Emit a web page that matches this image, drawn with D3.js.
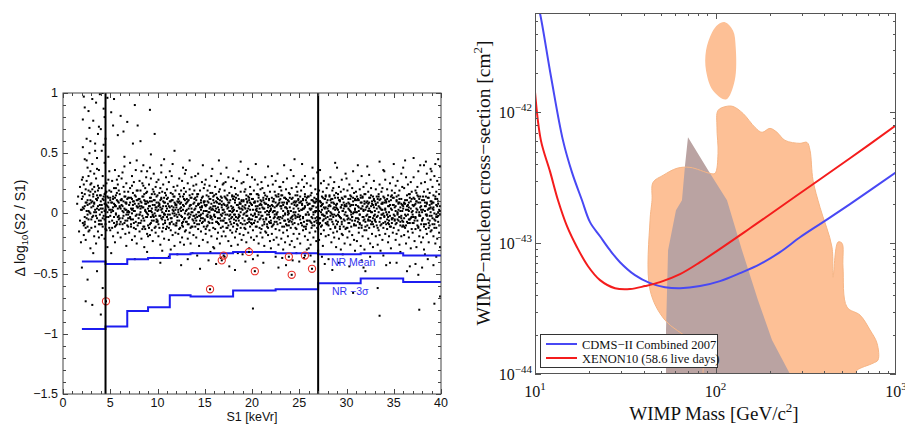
<!DOCTYPE html>
<html>
<head>
<meta charset="utf-8">
<script src="https://cdn.jsdelivr.net/npm/d3@7"></script>
<style>
  body { margin: 0; background: #fff; }
  svg { display: block; }
</style>
</head>
<body>
<div id="canvas"></div>
<script>
/* LEFT PANEL DATA */
// one row per 1 keVr bin; each entry "tenths:hundredths" -> (bin + t/10, v/100)
const scatterStart = 1;
const eventRows = [
  "5:8 7:-15 8:22 9:3 9:-24 6:14 8:-6",
  "0:12 1:-8 1:30 2:4 2:-18 3:16 3:45 3:-3 4:9 4:-22 5:27 5:2 5:62 6:-11 6:7 6:38 7:19 7:-5 7:85 8:1 8:-14 8:50 9:11 9:24 9:-29 0:-45 4:-73 6:-55 2:97 8:71 1:55 9:35 3:-9 0:28 1:78 5:44 7:31 9:60 3:88",
  "0:5 0:-12 1:20 1:41 2:-2 2:14 2:77 3:-19 3:8 3:33 4:-7 4:58 4:18 5:1 5:-25 5:92 6:11 6:46 6:-4 7:23 7:-15 7:66 8:3 8:36 8:-9 9:15 9:-1 9:99 1:-76 6:-48 3:9 5:29 8:-20 0:25 2:-33 7:6 4:52 8:72 1:95 6:37",
  "0:10 0:-6 1:52 1:21 1:-18 2:4 2:31 2:-11 3:87 3:14 3:-2 4:8 4:-21 4:42 5:17 5:-9 5:3 6:25 6:-14 7:6 7:96 7:-28 8:13 8:-3 9:35 9:19 9:-12 0:-84 2:-62 6:7 3:57 8:28 4:-5 1:1 5:62 0:70 4:80 8:47 2:100",
  "0:3 0:-14 1:18 1:84 2:-6 2:9 2:27 3:-19 3:2 3:12 4:-3 4:21 4:95 5:7 5:-24 5:36 6:-10 6:15 6:0 7:28 7:-7 7:11 8:-16 8:4 8:65 9:19 9:-2 9:31 3:73 1:-33 5:-11 6:6 8:24 0:13",
  "0:-9 0:16 1:4 1:-20 1:81 2:11 2:29 3:-4 3:6 3:-13 4:22 4:1 4:68 5:-8 5:14 5:39 6:-17 6:3 6:9 7:25 7:-1 7:-27 8:12 8:-6 8:76 9:18 9:-11 9:2 2:-42 5:47 3:34 7:8 0:5 9:-4",
  "0:7 0:-16 1:21 1:-3 2:13 2:-9 2:4 3:31 3:-22 3:0 4:10 4:-5 4:17 5:-12 5:26 5:2 6:8 6:-19 6:90 7:14 7:-7 7:36 8:-1 8:19 8:-25 9:5 9:-10 9:11 1:42 4:58 8:44 6:-38 3:23 0:1 9:73",
  "0:-4 0:12 1:6 1:-15 1:27 2:1 2:-8 2:19 3:-21 3:9 3:35 4:-2 4:14 5:-11 5:5 5:23 6:-6 6:16 6:-28 7:3 7:10 7:-13 8:30 8:-3 8:8 9:18 9:-17 9:0 2:60 5:40 9:-32 4:25 1:-1 7:21 9:35",
  "0:9 0:-10 1:2 1:24 2:-18 2:6 2:13 3:-3 3:29 3:-8 4:16 4:-14 4:4 5:-1 5:20 5:-23 6:11 6:-6 6:33 7:0 7:-12 7:7 8:22 8:-16 8:3 9:-5 9:14 9:26 3:49 6:-37 0:-19 4:10 8:-2 2:38 9:5 2:86 7:66",
  "0:-7 0:15 1:3 1:-19 1:28 2:8 2:-2 2:-12 3:21 3:5 3:-26 4:-4 4:12 4:34 5:1 5:-15 5:18 6:-9 6:6 6:24 7:-1 7:13 7:-21 8:9 8:-6 8:17 9:2 9:-13 9:30 3:-41 7:45 5:-31 1:9 6:-3 4:40",
  "0:4 0:-11 0:20 1:-5 1:13 2:-22 2:2 2:26 3:-8 3:10 3:-1 4:17 4:-14 5:6 5:-4 5:31 6:-18 6:11 6:0 7:22 7:-9 7:5 8:-27 8:14 8:-2 9:8 9:19 9:-16 2:-36 6:41 8:52 4:-30 0:-3 9:3 3:35",
  "0:-10 0:7 1:23 1:-3 2:12 2:-17 2:1 3:-6 3:16 3:29 4:-24 4:4 4:-12 5:9 5:19 5:-2 6:-8 6:27 6:-20 7:3 7:14 7:-11 8:-5 8:21 8:6 9:-15 9:0 9:33 1:-34 5:-43 7:38 3:10 0:-1 8:-26",
  "0:2 0:18 0:-14 1:-7 1:9 2:25 2:-1 2:-21 3:11 3:-9 3:4 4:-16 4:20 4:-3 5:13 5:7 5:-25 6:1 6:-11 6:30 7:16 7:-5 8:-18 8:8 8:23 9:-2 9:12 9:-8 4:44 7:-33 2:-38 0:36 5:-1 9:19",
  "0:-4 0:13 1:6 1:-20 1:24 2:-9 2:16 3:1 3:-13 3:33 4:8 4:-2 4:-27 5:19 5:-6 6:11 6:-15 6:3 7:26 7:-8 7:5 8:-22 8:14 8:0 9:9 9:-11 9:21 2:-35 5:-46 8:40 3:7 6:-4 1:-1 0:31",
  "0:10 0:-6 1:-17 1:2 1:28 2:7 2:-11 3:19 3:-3 3:-24 4:14 4:1 5:-8 5:23 5:-14 6:5 6:12 6:-2 7:-19 7:31 7:8 8:-5 8:17 9:-12 9:3 9:-28 4:-39 6:-32 8:37 0:24 2:15 5:4 9:11 3:-1",
  "0:-2 0:15 1:-13 1:6 1:22 2:-7 2:10 3:-21 3:1 3:27 4:-4 4:12 4:-16 5:18 5:-9 5:3 6:-25 6:8 6:20 7:-1 7:-12 7:33 8:5 8:13 8:-19 9:-6 9:24 9:0 2:-42 7:-37 5:44 0:-29 3:9 8:-2",
  "0:8 0:-15 1:19 1:-4 1:1 2:13 2:-19 2:26 3:-8 3:6 4:-12 4:15 4:-1 5:-23 5:9 5:30 6:-5 6:2 6:17 7:-14 7:11 8:-9 8:22 8:-27 9:4 9:14 9:-3 1:-36 6:-44 3:38 7:-1 0:25 9:-16 4:7",
  "0:-11 0:5 1:14 1:-1 2:-20 2:9 2:21 3:-6 3:16 3:-15 4:2 4:27 5:-10 5:7 5:-26 6:12 6:-3 6:35 7:-17 7:4 8:18 8:-8 8:1 9:-22 9:11 9:25 2:-47 5:-33 8:43 1:-5 4:-13 7:8 0:29 6:-1",
  "0:3 0:-9 1:-18 1:11 1:26 2:0 2:-6 3:20 3:-13 3:7 4:-24 4:15 4:-2 5:10 5:-8 5:32 6:-16 6:4 7:13 7:-4 7:-29 8:9 8:22 8:-11 9:-1 9:16 9:-20 3:-40 6:37 0:-34 5:2 8:-5 2:18 7:6",
  "0:-5 0:12 1:-14 1:3 2:19 2:-8 2:-22 3:9 3:0 3:28 4:-11 4:6 5:16 5:-3 5:-19 6:24 6:-7 6:10 7:-25 7:1 7:15 8:-12 8:7 9:20 9:-4 9:-16 1:-38 1:-79 4:41 6:-35 0:30 3:-1 9:8 5:4",
  "0:7 0:-13 1:21 1:-2 1:-20 2:11 2:4 3:-9 3:17 3:-27 4:1 4:-15 4:30 5:8 5:-5 6:14 6:-11 6:-1 7:23 7:-18 7:5 8:-7 8:12 9:-23 9:2 9:18 2:-41 7:39 4:-32 0:26 5:-16 8:-1 3:9 9:-8",
  "0:-8 0:4 1:13 1:-17 2:1 2:24 2:-10 3:-4 3:10 3:-22 4:18 4:-7 4:5 5:-13 5:27 6:0 6:-20 6:14 7:7 7:-9 7:33 8:-26 8:16 8:-3 9:9 9:-14 9:22 5:-36 8:-45 1:31 0:-29 4:-1 6:6 3:2",
  "0:12 0:-3 1:-21 1:6 1:19 2:-11 2:15 3:2 3:-16 3:26 4:-6 4:9 5:-24 5:13 5:-1 6:20 6:-9 7:4 7:-14 7:29 8:-5 8:11 8:-19 9:17 9:0 9:-10 2:-37 6:-43 4:40 0:22 5:5 8:1 3:-30 7:8",
  "0:-6 0:16 1:2 1:-12 2:-23 2:8 2:21 3:-2 3:13 4:-17 4:4 4:31 5:-8 5:10 5:-28 6:15 6:-4 6:1 7:-13 7:22 8:7 8:-21 8:18 9:-1 9:-9 9:12 3:-39 7:-33 1:36 5:45 0:-26 2:-3 6:9 9:25",
  "0:9 0:-17 1:14 1:-5 1:-25 2:3 2:19 3:-10 3:7 3:28 4:-14 4:12 4:-3 5:22 5:-7 6:-19 6:5 6:16 7:-1 7:-11 8:25 8:-6 8:9 9:-22 9:14 9:1 5:-37 8:-30 3:41 0:-40 2:-8 6:31 4:4 7:11",
  "0:-1 0:14 1:-16 1:8 2:-7 2:23 2:-26 3:4 3:17 3:-12 4:-4 4:11 5:-20 5:6 5:29 6:-10 6:13 7:1 7:-15 7:20 8:-6 8:10 8:-23 9:16 9:-3 9:34 2:-35 6:-40 0:-29 4:38 8:2 5:-1 3:-8 7:9",
  "0:6 0:-13 1:19 1:-4 1:-22 2:10 2:-8 3:1 3:25 3:-17 4:-10 4:14 4:3 5:-27 5:8 5:18 6:-5 6:-14 6:27 7:12 7:-2 8:-19 8:5 8:15 9:-9 9:21 9:0 4:-36 7:-42 2:36 0:-31 5:-1 8:-4 3:9",
  "0:-9 0:11 1:2 1:-18 1:24 2:-5 2:15 3:-13 3:6 3:30 4:-24 4:0 4:12 5:-7 5:19 6:-16 6:4 6:9 7:-1 7:-20 7:26 8:13 8:-11 9:-28 9:7 9:17 1:-38 5:-47 8:42 3:-2 6:21 0:-3 7:5 9:-6",
  "0:4 0:-15 1:-7 1:16 2:-21 2:1 2:22 3:-3 3:11 3:-11 4:18 4:-30 4:5 5:-9 5:13 5:28 6:-18 6:2 7:-5 7:9 7:20 8:-25 8:-1 8:14 9:6 9:-13 9:33 2:-41 6:-34 0:38 4:-4 8:7 1:-1 5:-17",
  "0:-12 0:8 1:19 1:-2 1:-20 2:12 2:-8 3:3 3:24 3:-15 4:-5 4:15 4:-26 5:7 5:-11 6:21 6:-3 6:-18 7:10 7:0 7:35 8:-9 8:17 8:-22 9:4 9:12 9:-6 7:-66 3:-44 0:29 5:1 9:-31 2:-4 4:6",
  "0:1 0:-10 1:14 1:-23 2:6 2:-4 2:27 3:-16 3:11 3:2 4:-8 4:20 5:-27 5:4 5:15 6:-12 6:9 6:31 7:-3 7:-19 7:13 8:22 8:-6 8:3 9:-14 9:8 9:-30 6:-39 2:40 8:-45 0:18 4:-1 3:-5 9:16",
  "0:-7 0:16 1:-14 1:5 1:25 2:-1 2:10 3:-21 3:-6 3:18 4:9 4:-12 4:32 5:-3 5:13 5:-25 6:6 6:-9 6:21 7:-17 7:1 8:14 8:-4 8:-28 9:11 9:-11 9:27 0:-48 5:-36 2:39 7:8 3:2 9:-2 4:4",
  "0:10 0:-5 1:-19 1:7 1:20 2:-10 2:14 3:-2 3:-26 3:9 4:16 4:-14 4:1 5:24 5:-7 5:-18 6:4 6:12 6:-31 7:-9 7:18 8:-1 8:-22 8:8 9:14 9:-12 9:36 3:-62 9:-35 5:-85 5:43 0:-1 6:-4 8:21 7:3",
  "0:-3 0:13 1:-17 1:4 1:28 2:-9 2:9 3:20 3:-13 3:-1 4:-24 4:6 4:15 5:-6 5:10 5:-19 6:25 6:-2 7:-11 7:14 7:-29 8:3 8:19 8:-8 9:-16 9:7 9:30 6:-41 2:-43 0:35 5:1 8:-4 3:-5 1:11",
  "0:7 0:-12 1:17 1:-5 2:-22 2:2 2:23 3:11 3:-8 3:-17 4:0 4:27 5:-14 5:8 5:15 6:-3 6:-26 6:19 7:5 7:-10 8:-19 8:12 8:33 9:-6 9:2 9:22 3:-41 7:-32 0:41 4:-1 6:9 1:-2 8:-4 5:-6",
  "0:-10 0:6 1:21 1:-4 1:-18 2:11 2:-12 3:3 3:30 3:-25 4:-7 4:15 5:-1 5:-15 5:24 6:9 6:-20 6:2 7:16 7:-8 8:-29 8:4 8:26 9:-13 9:12 9:-3 7:-44 4:-48 0:38 2:44 6:-5 9:18 5:7 1:8",
  "0:2 0:-16 1:13 1:-8 1:30 2:-23 2:7 3:-3 3:19 3:-13 4:10 4:-28 4:4 5:22 5:-6 6:-11 6:14 6:35 7:-19 7:1 8:9 8:-2 8:-14 9:25 9:-24 9:6 3:-42 6:-51 1:46 8:40 0:-1 5:3 7:12 4:17 7:-80",
  "0:-6 0:11 1:-20 1:3 2:18 2:-9 2:-30 3:6 3:26 4:-13 4:-1 4:14 5:9 5:-17 5:33 6:-5 6:20 7:-24 7:4 7:13 8:-10 8:17 8:-2 9:28 9:-15 9:1 4:43 6:-38 0:-45 2:40 5:-1 8:7 3:-34 9:37",
  "0:8 0:-14 1:-4 1:22 2:-19 2:5 2:15 3:-9 3:31 3:0 4:-25 4:12 5:-3 5:18 5:-12 6:27 6:6 6:-21 7:-7 7:10 7:45 8:-16 8:3 8:24 9:-1 9:39 9:-28 9:-69 2:-43 5:-36 0:35 4:41 7:-2 1:9 3:-75"
];

// dense core of the band, rows start at S1 = 2
const coreStart = 2;
const coreRows = [
  "0:3 1:14 2:-10 3:6 4:20 5:-4 6:11 7:-15 8:8 9:0 0:17 2:24 4:-12 6:-1 8:15 1:5 3:-7 5:9 7:2 9:18",
  "0:9 1:-3 2:16 3:1 4:-11 5:12 6:4 7:19 8:-6 9:7 1:10 3:22 5:-2 7:13 9:-9 0:-5 2:6 4:3 6:15 8:21",
  "0:15 1:7 2:-4 3:11 4:2 5:-13 6:18 7:1 8:9 9:-7 0:4 2:12 4:16 6:-3 8:5 1:-9 3:23 5:8 7:14 9:3",
  "0:-2 1:9 2:3 3:14 4:-8 5:6 6:-1 7:17 8:10 9:-5 0:11 2:-12 4:8 6:21 8:-3 1:1 3:5 5:13 7:-9 9:9",
  "0:6 1:-7 2:12 3:2 4:-2 5:18 6:-6 7:9 8:1 9:13 0:-4 2:7 4:10 6:14 8:-10 1:11 3:-9 5:4 7:3 9:-1",
  "0:1 1:9 2:-5 3:12 4:4 5:-8 6:15 7:-2 8:6 9:19 0:13 2:-11 4:7 6:2 8:11 1:-4 3:3 5:10 7:-13 9:5",
  "0:8 1:-1 2:10 3:-6 4:5 5:14 6:-11 7:2 8:17 9:-3 0:-8 2:4 4:-13 6:11 8:1 1:12 3:6 5:-4 7:8 9:10",
  "0:-1 1:6 2:-9 3:13 4:1 5:7 6:-3 7:16 8:-11 9:9 0:4 2:10 4:-6 6:18 8:5 1:-12 3:2 5:-2 7:11 9:-7",
  "0:2 1:-9 2:7 3:-2 4:13 5:4 6:-12 7:9 8:-1 9:15 0:-6 2:17 4:3 6:10 8:-8 1:6 3:11 5:-5 7:0 9:6",
  "0:-3 1:8 2:-12 3:5 4:10 5:-7 6:3 7:14 8:0 9:-10 0:12 2:6 4:-4 6:16 8:9 1:-1 3:-9 5:11 7:2 9:7",
  "0:5 1:-6 2:9 3:-1 4:14 5:2 6:-10 7:7 8:12 9:-4 0:-8 2:3 4:8 6:-3 8:16 1:10 3:-13 5:5 7:-7 9:11",
  "0:-7 1:3 2:10 3:-4 4:6 5:-12 6:13 7:1 8:-2 9:9 0:8 2:-9 4:15 6:4 8:-6 1:12 3:0 5:7 7:-11 9:3",
  "0:4 1:11 2:-3 3:8 4:-9 5:5 6:-1 7:13 8:-7 9:2 0:-11 2:14 4:1 6:9 8:-4 1:-6 3:16 5:-2 7:6 9:10",
  "0:-5 1:6 2:2 3:-10 4:9 5:12 6:-4 7:3 8:-8 9:14 0:7 2:-2 4:-7 6:17 8:4 1:-13 3:10 5:1 7:-3 9:6",
  "0:9 1:-3 2:4 3:13 4:-8 5:1 6:11 7:-6 8:7 9:-11 0:-1 2:16 4:5 6:-4 8:10 1:2 3:-7 5:8 7:14 9:3",
  "0:-6 1:7 2:-1 3:12 4:4 5:-10 6:9 7:2 8:-4 9:15 0:3 2:-8 4:11 6:-2 8:6 1:14 3:-12 5:5 7:-7 9:1",
  "0:2 1:-8 2:11 3:-3 4:7 5:15 6:-6 7:9 8:-12 9:4 0:12 2:-1 4:-9 6:5 8:8 1:3 3:13 5:-4 7:-2 9:10",
  "0:-4 1:10 2:5 3:-9 4:1 5:-2 6:14 7:-7 8:3 9:8 0:6 2:-12 4:12 6:-5 8:16 1:-1 3:4 5:9 7:11 9:-8",
  "0:7 1:-2 2:-8 3:10 4:3 5:-11 6:6 7:13 8:-5 9:1 0:-9 2:9 4:-3 6:16 8:4 1:12 3:-6 5:2 7:-1 9:11",
  "0:-2 1:5 2:13 3:-7 4:8 5:-4 6:2 7:-12 8:11 9:6 0:10 2:-5 4:15 6:-9 8:1 1:-10 3:4 5:12 7:7 9:-3",
  "0:3 1:-11 2:6 3:12 4:-3 5:9 6:-7 7:1 8:14 9:-5 0:-6 2:10 4:2 6:-1 8:8 1:7 3:-9 5:15 7:-4 9:11",
  "0:-8 1:4 2:9 3:-2 4:13 5:-6 6:5 7:-10 8:2 9:10 0:6 2:-4 4:-11 6:12 8:-1 1:15 3:7 5:0 7:9 9:-7",
  "0:5 1:-4 2:12 3:-9 4:1 5:7 6:-12 7:10 8:-3 9:4 0:13 2:-7 4:9 6:-2 8:15 1:2 3:-5 5:-1 7:6 9:11",
  "0:-3 1:9 2:-8 3:3 4:11 5:-11 6:6 7:-1 8:13 9:-6 0:2 2:10 4:-4 6:14 8:-9 1:-2 3:8 5:4 7:-13 9:7",
  "0:8 1:-6 2:3 3:11 4:-10 5:1 6:9 7:-4 8:5 9:-12 0:-1 2:15 4:6 6:-7 8:12 1:4 3:-3 5:10 7:2 9:-8",
  "0:-5 1:2 2:10 3:-11 4:7 5:13 6:-2 7:4 8:-8 9:9 0:11 2:-4 4:-1 6:5 8:14 1:-9 3:6 5:-6 7:12 9:1",
  "0:4 1:-10 2:7 3:1 4:-5 5:12 6:-9 7:8 8:3 9:-2 0:-7 2:14 4:9 6:-3 8:-12 1:6 3:11 5:-1 7:15 9:5",
  "0:-9 1:3 2:-2 3:10 4:5 5:-7 6:12 7:-11 8:6 9:1 0:8 2:11 4:-4 6:2 8:-6 1:13 3:-13 5:7 7:4 9:14",
  "0:6 1:-5 2:9 3:-8 4:2 5:14 6:-3 7:7 8:-10 9:11 0:-2 2:4 4:12 6:-6 8:1 1:-12 3:8 5:-1 7:13 9:3",
  "0:-4 1:11 2:-7 3:5 4:-1 5:9 6:-10 7:14 8:2 9:-5 0:7 2:12 4:-9 6:4 8:-3 1:1 3:-12 5:13 7:6 9:10",
  "0:3 1:-2 2:-10 3:8 4:13 5:-6 6:1 7:10 8:-9 9:5 0:-11 2:6 4:-3 6:15 8:7 1:9 3:-5 5:2 7:-7 9:12",
  "0:-6 1:8 2:4 3:-12 4:6 5:11 6:-4 7:-1 8:9 9:-8 0:2 2:-3 4:14 6:-10 8:3 1:-7 3:12 5:5 7:8 9:0",
  "0:9 1:-7 2:1 3:12 4:-3 5:6 6:-11 7:4 8:-5 9:13 0:-2 2:10 4:-8 6:7 8:15 1:3 3:-1 5:-9 7:11 9:-4",
  "0:-1 1:5 2:-9 3:10 4:-5 5:3 6:12 7:-7 8:8 9:-11 0:13 2:6 4:1 6:-3 8:-2 1:-6 3:14 5:9 7:2 9:7",
  "0:4 1:-11 2:8 3:-2 4:11 5:-8 6:5 7:13 8:-4 9:1 0:-7 2:-1 4:6 6:16 8:10 1:9 3:-10 5:3 7:-5 9:-3",
  "0:-8 1:6 2:12 3:-4 4:1 5:-10 6:9 7:-2 8:14 9:3 0:7 2:-6 4:10 6:-12 8:5 1:-3 3:8 5:15 7:-1 9:-9",
  "0:1 1:-4 2:-11 3:9 4:6 5:-2 6:13 7:-8 8:4 9:10 0:-5 2:11 4:-9 6:3 8:-6 1:14 3:2 5:8 7:-12 9:5",
  "0:10 1:-9 2:3 3:-5 4:14 5:7 6:-3 7:1 8:-10 9:6 0:-2 2:9 4:-6 6:12 8:16 1:4 3:-12 5:-1 7:8 9:2"
];

// candidate events (red circles)
const candS1 = [4.55, 15.56, 16.8, 17.0, 19.68, 20.3, 23.9, 24.2, 25.6, 26.35];
const candLog = [-0.73, -0.63, -0.39, -0.35, -0.32, -0.48, -0.36, -0.51, -0.35, -0.46];

// NR bands, one value per energy bin
const binEdges = [2, 4.5, 6.8, 9, 11.3, 13.5, 18, 22.5, 27, 31.5, 36, 40];
const nrMean = [-0.40, -0.42, -0.38, -0.37, -0.34, -0.33, -0.32, -0.33, -0.34, -0.33, -0.35];
const nr3Sigma = [-0.96, -0.94, -0.81, -0.78, -0.68, -0.69, -0.64, -0.63, -0.58, -0.54, -0.57];
const cutLines = [4.5, 27];

const s1Ticks = [0, 5, 10, 15, 20, 25, 30, 35, 40];
const dlogTicks = [1, 0.5, 0, -0.5, -1, -1.5];

/* RIGHT PANEL DATA */
const cdmsMass = [10.26, 10.66, 12.26, 14.29, 16.03, 18.21, 20.17, 22.92, 26.03, 29.57, 35.8, 43.4, 52.5, 63.6, 82.1, 105.9, 136.7, 176.4, 227.7, 293.9, 394.1, 556.1, 1000];
const cdmsSigma = [6.9e-42, 5.7e-42, 1.88e-42, 6.11e-43, 3.48e-43, 2.13e-43, 1.45e-43, 1.13e-43, 8.84e-44, 7.16e-44, 5.70e-44, 4.95e-44, 4.61e-44, 4.53e-44, 4.70e-44, 5.13e-44, 5.90e-44, 6.92e-44, 8.54e-44, 1.11e-43, 1.45e-43, 1.99e-43, 3.48e-43];

const xenonMass = [10, 10.78, 12.11, 13.41, 15.04, 17.09, 19.67, 22.92, 27.75, 33.6, 40.7, 49.3, 63.6, 82.1, 155.3, 293.9, 556.1, 1000];
const xenonSigma = [1.43e-42, 6.11e-43, 3.54e-43, 2.13e-43, 1.35e-43, 9.32e-44, 6.67e-44, 5.22e-44, 4.53e-44, 4.46e-44, 4.70e-44, 5.04e-44, 5.80e-44, 7.16e-44, 1.30e-43, 2.41e-43, 4.46e-43, 7.96e-43];

const islandMass = [112.9, 125.0, 129.4, 127.8, 114.4, 96.8, 88.6, 88.6, 95.6, 103.3];
const islandSigma = [4.89e-42, 4.23e-42, 3.15e-42, 1.755e-42, 1.257e-42, 1.472e-42, 2.09e-42, 2.97e-42, 4.08e-42, 4.70e-42];

const blobMass = [114.4, 125.0, 142.0, 165.5, 181.0, 200.4, 219.1, 242.7, 293.9, 321.3, 333.8, 346.9, 379.3, 441.9, 447.7, 477.2, 502.0, 508.5, 535.1, 631.9, 717.8, 784.7, 794.9, 745.7, 608.1, 592.9, 592.9, 88.6, 85.2, 72.2, 52.5, 43.4, 43.4, 44.5, 45.1, 51.2, 61.2, 72.2, 93.2, 99.4, 103.3, 101.9, 103.3];
const blobSigma = [1.11e-42, 1.11e-42, 9.83e-43, 7.68e-43, 7.04e-43, 7.55e-43, 7.04e-43, 6.11e-43, 5.80e-43, 5.90e-43, 5.13e-43, 3.03e-43, 1.88e-43, 9.32e-44, 5.50e-44, 1.02e-43, 1.0e-43, 6.56e-44, 3.25e-44, 2.82e-44, 2.17e-44, 1.72e-44, 1.28e-44, 1.21e-44, 1.07e-44, 1.0e-44, 0.9e-44, 0.9e-44, 1.35e-44, 1.82e-44, 2.58e-44, 4.38e-44, 1.50e-43, 2.13e-43, 2.92e-43, 3.30e-43, 3.74e-43, 3.80e-43, 3.42e-43, 3.42e-43, 4.86e-43, 7.68e-43, 1.036e-42];

const wedgeMass = [70.4, 93.2, 115.8, 140.2, 172.0, 205.6, 258.6, 265.3, 53.2, 53.2, 54.6, 60.4, 65.2, 67.8];
const wedgeSigma = [6.45e-43, 3.42e-43, 2.13e-43, 8.84e-44, 3.67e-44, 1.82e-44, 1.0e-44, 0.9e-44, 0.9e-44, 2.17e-44, 8.84e-44, 1.79e-43, 2.13e-43, 3.94e-43];

const legendNames = ["CDMS\u2212II Combined 2007", "XENON10 (58.6 live days)"];
const legendColors = ["#4848f4", "#f41c1c"];

/* CREATE THE SVG CANVAS */
const svg = d3.select("#canvas")
    .append("svg")
    .attr("width", 905)
    .attr("height", 424);

const sans = "'Liberation Sans', Arial, sans-serif";
const serif = "'Liberation Serif', 'Times New Roman', serif";

/* ---------- LEFT PANEL ---------- */
const xL = d3.scaleLinear().domain([0, 40]).range([63, 441]);
const yL = d3.scaleLinear().domain([-1.5, 1]).range([394, 93]);

svg.append("clipPath").attr("id", "clipL")
    .append("rect").attr("x", 63).attr("y", 93).attr("width", 378).attr("height", 301);

const scatter = [];
function readRows(rows, start) {
    rows.forEach((row, i) => {
        row.trim().split(/\s+/).forEach(p => {
            const [t, v] = p.split(":").map(Number);
            scatter.push([start + i + t / 10, v / 100]);
        });
    });
}
readRows(eventRows, scatterStart);
readRows(coreRows, coreStart);

const left = svg.append("g").attr("clip-path", "url(#clipL)");

left.selectAll("rect.dot")
    .data(scatter)
    .join("rect")
    .attr("class", "dot")
    .attr("x", d => xL(d[0]) - 1)
    .attr("y", d => yL(d[1]) - 1)
    .attr("width", 2)
    .attr("height", 2)
    .attr("fill", "#000");

const stepLine = d3.line()
    .x(d => xL(d[0]))
    .y(d => yL(d[1]))
    .curve(d3.curveStepAfter);

[nrMean, nr3Sigma].forEach(vals => {
    const pts = binEdges.map((e, i) => [e, vals[Math.min(i, vals.length - 1)]]);
    left.append("path")
        .attr("d", stepLine(pts))
        .attr("fill", "none")
        .attr("stroke", "#1c1cf0")
        .attr("stroke-width", 2);
});

// candidate events
const cands = candS1.map((s, i) => [s, candLog[i]]);
left.selectAll("rect.cdot")
    .data(cands)
    .join("rect")
    .attr("class", "cdot")
    .attr("x", d => xL(d[0]) - 1)
    .attr("y", d => yL(d[1]) - 1)
    .attr("width", 2)
    .attr("height", 2)
    .attr("fill", "#000");
left.selectAll("circle.cand")
    .data(cands)
    .join("circle")
    .attr("class", "cand")
    .attr("cx", d => xL(d[0]))
    .attr("cy", d => yL(d[1]))
    .attr("r", 3.6)
    .attr("fill", "none")
    .attr("stroke", "#e8302a")
    .attr("stroke-width", 1.1);

cutLines.forEach(v => {
    left.append("line")
        .attr("x1", xL(v)).attr("x2", xL(v))
        .attr("y1", 93).attr("y2", 394)
        .attr("stroke", "#000")
        .attr("stroke-width", 2);
});

// frame and ticks
svg.append("rect")
    .attr("x", 63).attr("y", 93).attr("width", 378).attr("height", 301)
    .attr("fill", "none").attr("stroke", "#444").attr("stroke-width", 1);

const tickG = svg.append("g").attr("stroke", "#444").attr("stroke-width", 1);
d3.range(0, 41).forEach(v => {
    const len = v % 5 === 0 ? 5 : 3;
    const x = Math.round(xL(v)) + 0.5;
    tickG.append("line").attr("x1", x).attr("x2", x).attr("y1", 394).attr("y2", 394 - len);
    tickG.append("line").attr("x1", x).attr("x2", x).attr("y1", 93).attr("y2", 93 + len);
});
d3.range(-15, 11).forEach(k => {
    const len = k % 5 === 0 ? 5 : 3;
    const y = Math.round(yL(k / 10)) + 0.5;
    tickG.append("line").attr("x1", 63).attr("x2", 63 + len).attr("y1", y).attr("y2", y);
    tickG.append("line").attr("x1", 441).attr("x2", 441 - len).attr("y1", y).attr("y2", y);
});

const fmtL = v => (v < 0 ? "\u2212" : "") + Math.abs(v);
svg.append("g").selectAll("text")
    .data(s1Ticks)
    .join("text")
    .attr("x", d => xL(d))
    .attr("y", 407)
    .attr("text-anchor", "middle")
    .attr("font-family", sans)
    .attr("font-size", 12.5)
    .attr("fill", "#111")
    .text(d => d);
svg.append("g").selectAll("text")
    .data(dlogTicks)
    .join("text")
    .attr("x", 58)
    .attr("y", d => yL(d) + 4)
    .attr("text-anchor", "end")
    .attr("font-family", sans)
    .attr("font-size", 12.5)
    .attr("fill", "#111")
    .text(d => fmtL(d));

svg.append("text")
    .attr("x", 252).attr("y", 421)
    .attr("text-anchor", "middle")
    .attr("font-family", sans)
    .attr("font-size", 12.5)
    .attr("fill", "#111")
    .text("S1 [keVr]");

const yLab = svg.append("text")
    .attr("transform", "translate(25,228) rotate(-90)")
    .attr("text-anchor", "middle")
    .attr("font-family", sans)
    .attr("font-size", 14)
    .attr("fill", "#111");
yLab.append("tspan").text("\u0394 log");
yLab.append("tspan").attr("dy", 3).attr("font-size", 9.5).text("10");
yLab.append("tspan").attr("dy", -3).text("(S2 / S1)");

svg.append("text")
    .attr("x", 331).attr("y", 266)
    .attr("font-family", sans).attr("font-size", 10.5)
    .attr("fill", "#3434f0")
    .text("NR Mean");
svg.append("text")
    .attr("x", 332).attr("y", 295)
    .attr("font-family", sans).attr("font-size", 10.5)
    .attr("fill", "#3434f0")
    .text("NR \u22123\u03c3");

/* ---------- RIGHT PANEL ---------- */
const xR = d3.scaleLog().domain([10, 1000]).range([535, 896]);
const yR = d3.scaleLog().domain([1e-44, Math.pow(10, -41.24)]).range([374, 13]);

svg.append("clipPath").attr("id", "clipR")
    .append("rect").attr("x", 535).attr("y", 13).attr("width", 361).attr("height", 361);

const right = svg.append("g").attr("clip-path", "url(#clipR)");

const zip = (a, b) => a.map((v, i) => [v, b[i]]);
const smooth = d3.line().x(d => xR(d[0])).y(d => yR(d[1])).curve(d3.curveCatmullRomClosed.alpha(0.5));
const straight = d3.line().x(d => xR(d[0])).y(d => yR(d[1])).curve(d3.curveLinearClosed);
const curve = d3.line().x(d => xR(d[0])).y(d => yR(d[1])).curve(d3.curveCatmullRom.alpha(0.5));

const orange = "#fdc096";
right.append("path").attr("d", smooth(zip(islandMass, islandSigma))).attr("fill", orange);
right.append("path").attr("d", smooth(zip(blobMass, blobSigma))).attr("fill", orange);
right.append("path").attr("d", straight(zip(wedgeMass, wedgeSigma))).attr("fill", "#baa3a2");
right.append("path").attr("d", smooth(zip(blobMass, blobSigma)))
    .attr("fill", "none").attr("stroke", "#f6b585").attr("stroke-width", 1);

right.append("path").attr("d", curve(zip(cdmsMass, cdmsSigma)))
    .attr("fill", "none").attr("stroke", legendColors[0]).attr("stroke-width", 2);
right.append("path").attr("d", curve(zip(xenonMass, xenonSigma)))
    .attr("fill", "none").attr("stroke", legendColors[1]).attr("stroke-width", 2);

// legend
const leg = svg.append("g");
leg.append("rect")
    .attr("x", 540.5).attr("y", 334.5).attr("width", 177).attr("height", 33)
    .attr("fill", "#fff").attr("stroke", "#333").attr("stroke-width", 1);
legendNames.forEach((name, i) => {
    const y = 344 + i * 14;
    leg.append("line")
        .attr("x1", 546).attr("x2", 577).attr("y1", y).attr("y2", y)
        .attr("stroke", legendColors[i]).attr("stroke-width", 2);
    leg.append("text")
        .attr("x", 582).attr("y", y + 4.5)
        .attr("font-family", serif).attr("font-size", 12.5)
        .attr("fill", "#111")
        .text(name);
});

// frame and log ticks
svg.append("rect")
    .attr("x", 535.5).attr("y", 13.5).attr("width", 360).attr("height", 360)
    .attr("fill", "none").attr("stroke", "#555").attr("stroke-width", 1);

const tickR = svg.append("g").attr("stroke", "#555").attr("stroke-width", 1);
[10, 100].forEach(d => {
    d3.range(1, 10).forEach(k => {
        const v = k * d;
        const len = k === 1 ? 6 : 3;
        const x = Math.round(xR(v)) + 0.5;
        tickR.append("line").attr("x1", x).attr("x2", x).attr("y1", 374).attr("y2", 374 - len);
        tickR.append("line").attr("x1", x).attr("x2", x).attr("y1", 13).attr("y2", 13 + len);
    });
});
[-44, -43, -42].forEach(e => {
    d3.range(1, 10).forEach(k => {
        const v = k * Math.pow(10, e);
        if (v > yR.domain()[1]) return;
        const len = k === 1 ? 6 : 3;
        const y = Math.round(yR(v)) + 0.5;
        tickR.append("line").attr("x1", 535).attr("x2", 535 + len).attr("y1", y).attr("y2", y);
        tickR.append("line").attr("x1", 896).attr("x2", 896 - len).attr("y1", y).attr("y2", y);
    });
});

const xPow = [1, 2, 3];
xPow.forEach(p => {
    const t = svg.append("text")
        .attr("x", xR(Math.pow(10, p)))
        .attr("y", 397)
        .attr("text-anchor", "middle")
        .attr("font-family", serif)
        .attr("font-size", 16)
        .attr("fill", "#111");
    t.append("tspan").text("10");
    t.append("tspan").attr("dy", -7).attr("font-size", 11).text(p);
});
const yPow = [-44, -43, -42];
yPow.forEach(p => {
    const t = svg.append("text")
        .attr("x", 532)
        .attr("y", yR(Math.pow(10, p)) + 6)
        .attr("text-anchor", "end")
        .attr("font-family", serif)
        .attr("font-size", 16)
        .attr("fill", "#111");
    t.append("tspan").text("10");
    t.append("tspan").attr("dy", -7).attr("font-size", 11).text("\u2212" + Math.abs(p));
});

const xLabR = svg.append("text")
    .attr("x", 714).attr("y", 420)
    .attr("text-anchor", "middle")
    .attr("font-family", serif)
    .attr("font-size", 19)
    .attr("fill", "#111");
xLabR.append("tspan").text("WIMP Mass [GeV/c");
xLabR.append("tspan").attr("dy", -8).attr("font-size", 13).text("2");
xLabR.append("tspan").attr("dy", 8).text("]");

const yLabR = svg.append("text")
    .attr("transform", "translate(490,183) rotate(-90)")
    .attr("text-anchor", "middle")
    .attr("font-family", serif)
    .attr("font-size", 19.5)
    .attr("fill", "#111");
yLabR.append("tspan").text("WIMP\u2212nucleon cross\u2212section [cm");
yLabR.append("tspan").attr("dy", -8).attr("font-size", 13).text("2");
yLabR.append("tspan").attr("dy", 8).text("]");
</script>
</body>
</html>
